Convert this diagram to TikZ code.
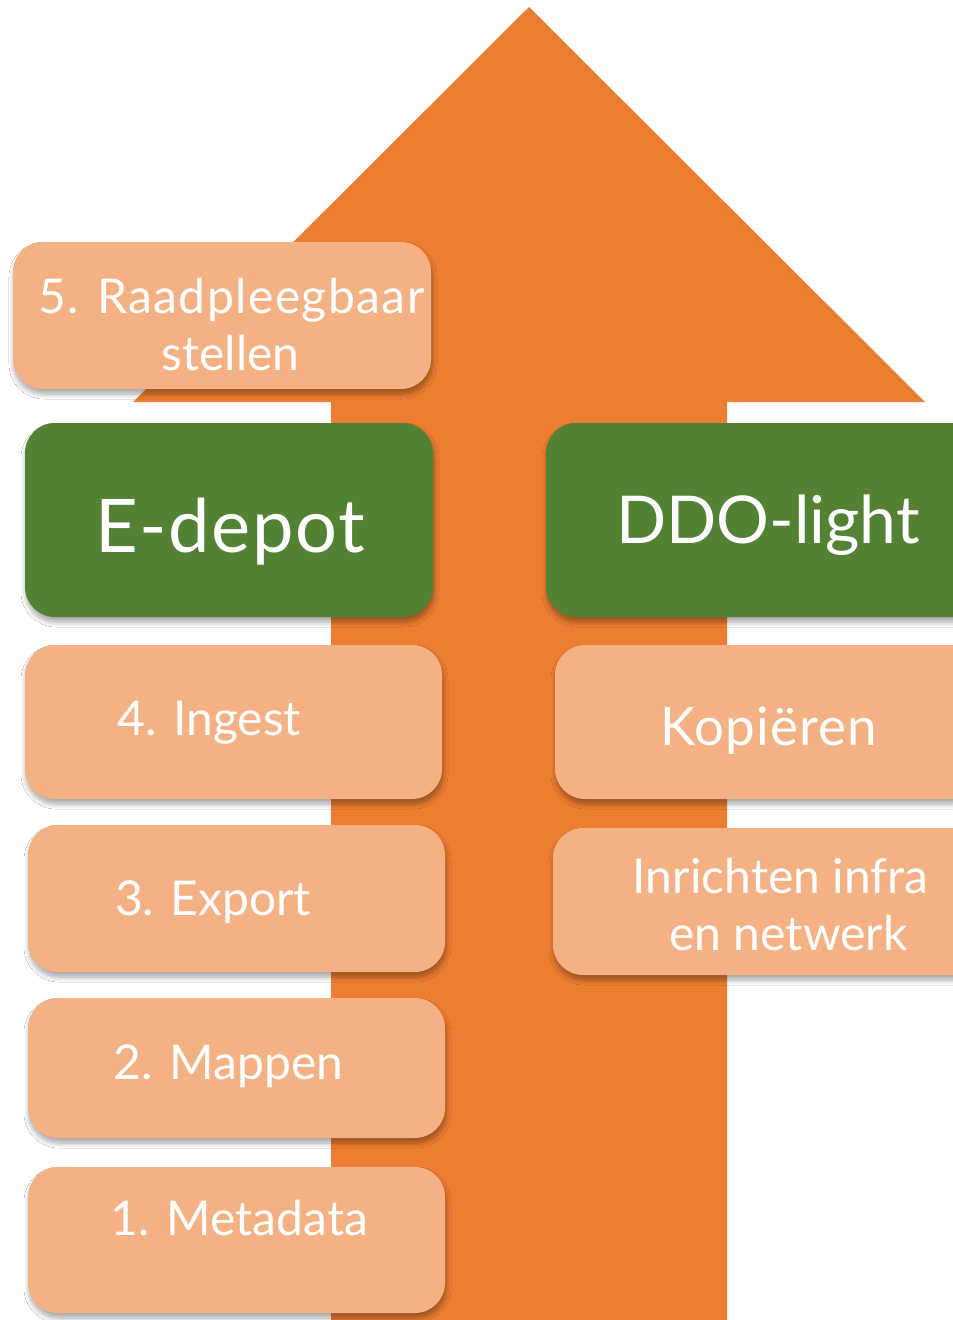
\documentclass[tikz,border=0pt]{standalone}
\usepackage{fontspec}
\setmainfont{Lato}
\usetikzlibrary{shadows.blur}
\definecolor{arroworange}{HTML}{ED7D31}
\definecolor{boxpeach}{HTML}{F4B183}
\definecolor{boxgreen}{HTML}{548235}
\begin{document}
\begin{tikzpicture}[x=1pt,y=-1pt,
  box/.style={rounded corners=30pt, inner sep=0pt,
    blur shadow={shadow xshift=1pt, shadow yshift=-5pt, shadow opacity=35, shadow blur steps=8, shadow blur radius=5pt}},
  peachbox/.style={box, fill=boxpeach},
  greenbox/.style={box, fill=boxgreen},
  lbl/.style={text=white, anchor=base, inner sep=0pt, font=\fontsize{48}{57}\selectfont},
  biglbl/.style={lbl, font=\fontsize{74}{88}\selectfont\addfontfeatures{LetterSpace=2}},
  midlbl/.style={lbl, font=\fontsize{66}{80}\selectfont}
]
\useasboundingbox (0,0) rectangle (953,1320);
\clip (0,0) rectangle (953,1320);
\fill[white] (0,0) rectangle (953,1320);
% arrow
\fill[arroworange] (331,1330) -- (331,402) -- (133,402) -- (529,7) -- (925,402) -- (727,402) -- (727,1330) -- cycle;
% left boxes
\node[peachbox, minimum width=418pt, minimum height=147pt] (b5) at (222,315.5) {};
\node[greenbox, minimum width=408pt, minimum height=194pt] (edepot) at (229,520) {};
\node[peachbox, minimum width=417pt, minimum height=154pt] (b4) at (233.5,722) {};
\node[peachbox, minimum width=417pt, minimum height=147pt] (b3) at (236.5,898.5) {};
\node[peachbox, minimum width=417pt, minimum height=140pt] (b2) at (236.5,1068) {};
\node[peachbox, minimum width=417pt, minimum height=146pt] (b1) at (236.5,1240) {};
% right boxes
\node[greenbox, minimum width=444pt, minimum height=194pt] (ddo) at (768,520) {};
\node[peachbox, minimum width=426pt, minimum height=154pt] (kop) at (768,722) {};
\node[peachbox, minimum width=462pt, minimum height=147pt] (inr) at (784,901.5) {};
% labels
\node[lbl, font=\fontsize{48}{57}\selectfont\addfontfeatures{LetterSpace=3}] (t5a) at (231.5,313) {5. Raadpleegbaar};
\node[lbl] (t5b) at (230.5,370) {stellen};
\node[biglbl] (tedepot) at (230,552) {E-depot};
\node[lbl] (t4) at (209.5,735) {4. Ingest};
\node[lbl] (t3) at (213,915) {3. Export};
\node[lbl] (t2) at (228.5,1079) {2. Mappen};
\node[lbl] (t1) at (239.5,1235) {1. Metadata};
\node[midlbl] (tddo) at (768,543) {DDO-light};
\node[lbl, font=\fontsize{53}{63}\selectfont\addfontfeatures{LetterSpace=2}] (tkop) at (768.5,745) {Kopiëren};
\node[lbl] (tinra) at (780.5,893) {Inrichten infra};
\node[lbl] (tinrb) at (788.5,950) {en netwerk};
\end{tikzpicture}
\end{document}
